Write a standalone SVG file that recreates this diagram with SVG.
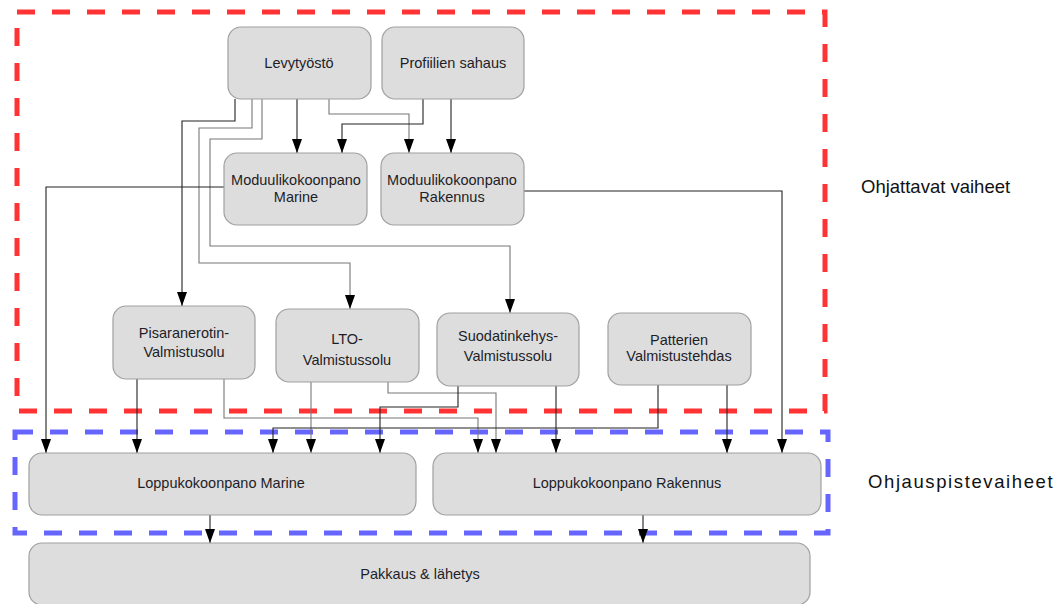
<svg xmlns="http://www.w3.org/2000/svg" width="1064" height="604" viewBox="0 0 1064 604">
  <defs>
    <marker id="arrow" markerWidth="14" markerHeight="10" refX="14" refY="5" orient="auto" markerUnits="userSpaceOnUse" viewBox="0 0 14 10">
      <path d="M0,0 L14,5 L0,10 Z" fill="#000"/>
    </marker>
    <style>
      .node rect { fill: #dddddd; stroke: #a0a0a0; stroke-width: 1.2; }
      .node text { font-family: "Liberation Sans", Arial, sans-serif; font-size: 14.5px; fill: #1e1e28; text-anchor: middle; }
      .zone { fill: none; stroke-width: 5; stroke-dasharray: 18 17; }
      .edge { fill: none; stroke: #222; stroke-width: 1.1; }
      .edge.soft { stroke: #777; }
      .edge.arr { marker-end: url(#arrow); }
      .label { font-family: "Liberation Sans", Arial, sans-serif; font-size: 18.5px; fill: #111; }
    </style>
  </defs>
  <rect width="1064" height="604" fill="#ffffff"/>

  <!-- phase frames -->
  <g id="zones">
    <rect class="zone" x="17" y="12" width="808" height="399" stroke="#ff3333"/>
    <rect class="zone" x="15" y="432" width="813" height="101" stroke="#6666ff"/>
  </g>

  <!-- connectors -->
  <g id="connectors">
    <!-- Levytyöstö outputs -->
    <path class="edge arr" d="M235,99 V121 H182 V306"/>
    <path class="edge soft arr" d="M252,99 V128 H199 V263 H350 V309"/>
    <path class="edge soft arr" d="M262,99 V139 H210 V246 H510 V313"/>
    <path class="edge arr" d="M297,99 V153"/>
    <path class="edge soft arr" d="M329,99 V114 H409 V153"/>
    <!-- Profiilien sahaus outputs -->
    <path class="edge arr" d="M423,99 V124 H342 V153"/>
    <path class="edge arr" d="M451,99 V153"/>
    <!-- module assembly outputs -->
    <path class="edge arr" d="M224,187 H46 V453"/>
    <path class="edge arr" d="M524,191 H782 V453"/>
    <!-- Pisaranerotin -->
    <path class="edge arr" d="M137,379 V453"/>
    <path class="edge soft arr" d="M224,379 V418 H478 V453"/>
    <!-- LTO -->
    <path class="edge soft arr" d="M311,382 V453"/>
    <path class="edge soft arr" d="M388,382 V393 H496 V453"/>
    <!-- Suodatinkehys -->
    <path class="edge arr" d="M458,386 V407 H380 V453"/>
    <path class="edge arr" d="M556,386 V453"/>
    <!-- Patterien -->
    <path class="edge arr" d="M658,385 V428 H273 V453"/>
    <path class="edge arr" d="M727,385 V453"/>
    <!-- final assembly to packing -->
    <path class="edge arr" d="M210,515 V543"/>
    <path class="edge arr" d="M643,515 V543"/>
  </g>

  <g id="levytyosto" class="node">
    <rect x="228" y="27" width="143" height="72" rx="13"/>
    <text x="299" y="68">Levytyöstö</text>
  </g>
  <g id="profiilien-sahaus" class="node">
    <rect x="382" y="27" width="142" height="72" rx="13"/>
    <text x="453" y="68">Profiilien sahaus</text>
  </g>
  <g id="moduuli-marine" class="node">
    <rect x="224" y="153" width="143" height="72" rx="13"/>
    <text x="296" y="185">Moduulikokoonpano</text>
    <text x="296" y="202">Marine</text>
  </g>
  <g id="moduuli-rakennus" class="node">
    <rect x="381" y="153" width="143" height="72" rx="13"/>
    <text x="452" y="185">Moduulikokoonpano</text>
    <text x="452" y="202">Rakennus</text>
  </g>
  <g id="pisaranerotin" class="node">
    <rect x="113" y="306" width="142" height="73" rx="13"/>
    <text x="184" y="338">Pisaranerotin-</text>
    <text x="184" y="357">Valmistusolu</text>
  </g>
  <g id="lto" class="node">
    <rect x="276" y="309" width="143" height="73" rx="13"/>
    <text x="347" y="344">LTO-</text>
    <text x="347" y="365">Valmistussolu</text>
  </g>
  <g id="suodatinkehys" class="node">
    <rect x="437" y="313" width="142" height="73" rx="13"/>
    <text x="508" y="341">Suodatinkehys-</text>
    <text x="508" y="361">Valmistussolu</text>
  </g>
  <g id="patterien" class="node">
    <rect x="608" y="313" width="143" height="72" rx="13"/>
    <text x="679" y="345">Patterien</text>
    <text x="679" y="361">Valmistustehdas</text>
  </g>
  <g id="loppu-marine" class="node">
    <rect x="29" y="453" width="387" height="62" rx="13"/>
    <text x="221" y="488">Loppukokoonpano Marine</text>
  </g>
  <g id="loppu-rakennus" class="node">
    <rect x="433" y="453" width="388" height="62" rx="13"/>
    <text x="627" y="488">Loppukokoonpano Rakennus</text>
  </g>
  <g id="pakkaus" class="node">
    <rect x="29" y="543" width="781" height="62" rx="13"/>
    <text x="420" y="579">Pakkaus &amp; lähetys</text>
  </g>

  <g id="phase-labels">
    <text class="label" x="861" y="193">Ohjattavat vaiheet</text>
    <text class="label" x="868" y="488" letter-spacing="1.6">Ohjauspistevaiheet</text>
  </g>
</svg>
